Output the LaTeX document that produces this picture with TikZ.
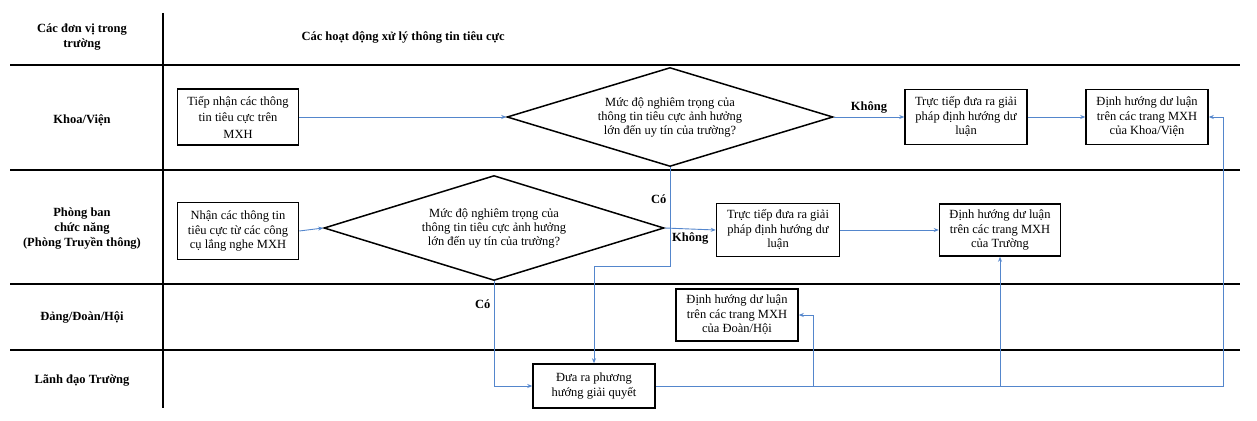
\documentclass[tikz,border=0pt]{standalone}
\usepackage{fontspec}
\setmainfont{Liberation Serif}
\usetikzlibrary{arrows.meta, calc, positioning, shapes.geometric}
\definecolor{lineblue}{RGB}{84,134,204}

\begin{document}
\begin{tikzpicture}[x=1pt,y=1pt,
	lane/.style={line width=1.6pt,black},
	box/.style={draw,black,line width=1.5pt,minimum width=121pt,minimum height=55pt,align=center,inner sep=2pt,font=\fontsize{12.5}{14.5}\selectfont},
	decision/.style={draw,black,diamond,line width=1.5pt,aspect=3.3,inner sep=1pt,align=center,font=\fontsize{12.5}{14}\selectfont},
	flow/.style={lineblue,line width=0.9pt,-{Stealth[length=5pt,width=4pt]}},
	head/.style={font=\bfseries\fontsize{12.5}{15}\selectfont,align=center},
	answer/.style={text=black,font=\bfseries\fontsize{12.5}{14}\selectfont}]
	
	\useasboundingbox (0,0) rectangle (1257,-420);
	
	\coordinate (TN) at (238,-117);
	\coordinate (D1) at (670,-117);
	\coordinate (TT1) at (966,-117);
	\coordinate (DK) at (1147,-117);
	\coordinate (NH) at (238,-231);
	\coordinate (D2) at (494,-228);
	\coordinate (TT2) at (778,-230);
	\coordinate (DT) at (1000,-230);
	\coordinate (DD) at (737,-315);
	\coordinate (DR) at (594,-386);
	
	\foreach \y in {65,170,284,350}
		\draw[lane] (10,-\y) -- (1240,-\y);
	\draw[lane] (163,-13) -- (163,-408);
	
	\node[head] (hdunit) at (82,-37) {Các đơn vị trong\\trường};
	\node[head,anchor=west] (hdact) at (298,-37) {Các hoạt động xử lý thông tin tiêu cực};
	\node[head] (lkhoa) at (82,-120) {Khoa/Viện};
	\node[head] (lphong) at (82,-229) {Phòng ban\\chức năng\\(Phòng Truyền thông)};
	\node[head] (ldang) at (82,-317) {Đảng/Đoàn/Hội};
	\node[head] (llanh) at (82,-381) {Lãnh đạo Trường};
	
	\node[box,minimum height=56pt,font=\fontsize{12.5}{16.5}\selectfont] (tiepnhan) at (TN) {Tiếp nhận các thông\\tin tiêu cực trên\\MXH};
	\node[decision,minimum width=326pt,minimum height=99pt] (dia1) at (D1) {Mức độ nghiêm trọng của\\thông tin tiêu cực ảnh hưởng\\lớn đến uy tín của trường?};
	\node[box,minimum width=122pt] (tructiep1) at (TT1) {Trực tiếp đưa ra giải\\pháp định hướng dư\\luận};
	\node[box,minimum width=122pt] (dinhkhoa) at (DK) {Định hướng dư luận\\trên các trang MXH\\của Khoa/Viện};
	
	\node[box,minimum height=57pt] (nhan) at (NH) {Nhận các thông tin\\tiêu cực từ các công\\cụ lắng nghe MXH};
	\node[decision,minimum width=340pt,minimum height=105pt] (dia2) at (D2) {Mức độ nghiêm trọng của\\thông tin tiêu cực ảnh hưởng\\lớn đến uy tín của trường?};
	\node[box,minimum width=123pt,minimum height=53pt] (tructiep2) at (TT2) {Trực tiếp đưa ra giải\\pháp định hướng dư\\luận};
	\node[box,minimum height=52pt] (dinhtruong) at (DT) {Định hướng dư luận\\trên các trang MXH\\của Trường};
	
	\node[box,minimum width=122pt,minimum height=52pt] (dinhdoan) at (DD) {Định hướng dư luận\\trên các trang MXH\\của Đoàn/Hội};
	\node[box,minimum width=122pt,minimum height=44pt] (duara) at (DR) {Đưa ra phương\\hướng giải quyết};
	
	\coordinate (R) at (1223,-386);
	\coordinate (J1) at (813,-386);
	\coordinate (J2) at (1000,-386);
	
	\draw[flow] (tiepnhan.east) -- (dia1.west);
	\draw[flow] (dia1.east) -- node[answer,above] (khong1) {Không} (tructiep1.west);
	\draw[flow] (tructiep1.east) -- (dinhkhoa.west);
	\draw[flow] (dia1.south) -- ++(0,-99) -| (duara.north);
	\node[answer,left] (co1) at ($(dia1.south)+(0,-32)$) {Có};
	
	\draw[flow] (nhan.east) -- (dia2.west);
	\draw[flow] (dia2.east) -- node[answer,below] (khong2) {Không} (tructiep2.west);
	\draw[flow] (tructiep2.east) -- (dinhtruong.west);
	\draw[flow] (dia2.south) |- (duara.west);
	\node[answer,left] (co2) at ($(dia2.south)+(0,-23)$) {Có};
	
	\draw[flow] (duara.east) -- (R) |- (dinhkhoa.east);
	\draw[flow] (J1) |- (dinhdoan.east);
	\draw[flow] (J2) -- (dinhtruong.south);
\end{tikzpicture}
\end{document}
